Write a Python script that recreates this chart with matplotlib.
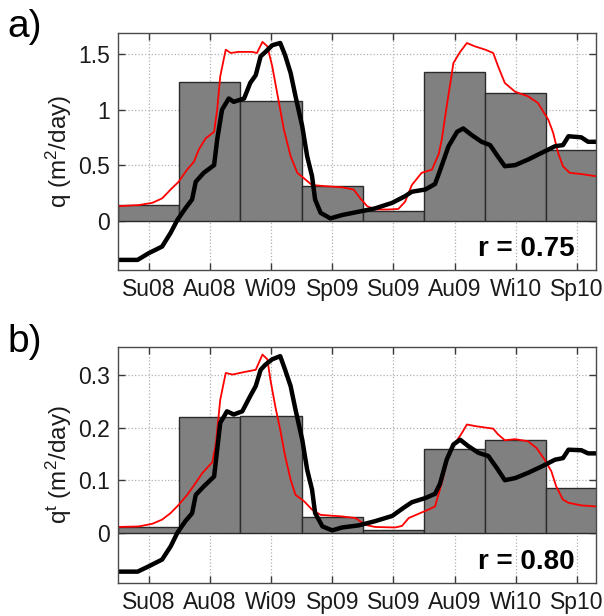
import numpy as np
import matplotlib
matplotlib.use("Agg")
import matplotlib.pyplot as plt

plt.rcParams["font.family"] = ["Liberation Sans", "DejaVu Sans"]
plt.rcParams["mathtext.default"] = "regular"

# seasons (bar centres at 1..8)
seasons = ["Su08", "Au08", "Wi09", "Sp09", "Su09", "Au09", "Wi10", "Sp10"]
season_pos = [1, 2, 3, 4, 5, 6, 7, 8]

# seasonal bars
bars_q  = [0.14, 1.25, 1.08, 0.31, 0.09, 1.34, 1.15, 0.64]
bars_qt = [0.011, 0.221, 0.223, 0.030, 0.005, 0.159, 0.177, 0.086]

# panel a) black curve
xa_black = [0.5, 0.82, 1.0, 1.22, 1.36, 1.47, 1.60, 1.71, 1.77, 1.90, 2.07, 2.12, 2.20,
            2.31, 2.39, 2.56, 2.66, 2.75, 2.83, 2.91, 3.02, 3.15, 3.23, 3.32, 3.40,
            3.51, 3.59, 3.67, 3.72, 3.81, 3.97, 4.16, 4.43, 4.70, 4.98, 5.19, 5.30,
            5.52, 5.68, 5.76, 5.90, 6.04, 6.14, 6.28, 6.44, 6.58, 6.69, 6.82, 6.99,
            7.20, 7.42, 7.64, 7.77, 7.86, 8.07, 8.18, 8.31]
ya_black = [-0.354, -0.354, -0.294, -0.234, -0.11, 0.006, 0.11, 0.19, 0.35, 0.43, 0.50,
            0.73, 1.0, 1.10, 1.07, 1.10, 1.24, 1.31, 1.48, 1.52, 1.58, 1.60, 1.49,
            1.33, 1.12, 0.85, 0.58, 0.40, 0.19, 0.07, 0.02, 0.05, 0.08, 0.11, 0.16,
            0.22, 0.26, 0.28, 0.33, 0.45, 0.67, 0.80, 0.83, 0.77, 0.71, 0.68, 0.59,
            0.49, 0.50, 0.55, 0.61, 0.67, 0.68, 0.76, 0.75, 0.71, 0.71]

# panel a) red curve
xa_red = [0.5, 0.84, 1.06, 1.22, 1.36, 1.49, 1.63, 1.74, 1.82, 1.93, 2.07, 2.12, 2.17,
          2.26, 2.34, 2.47, 2.69, 2.77, 2.86, 2.94, 3.02, 3.10, 3.21, 3.32, 3.43,
          3.54, 3.67, 3.89, 4.16, 4.35, 4.46, 4.57, 4.70, 4.92, 5.08, 5.19, 5.30,
          5.46, 5.63, 5.74, 5.79, 5.87, 5.93, 5.98, 6.09, 6.20, 6.33, 6.50, 6.63,
          6.71, 6.82, 6.99, 7.20, 7.36, 7.53, 7.61, 7.69, 7.77, 7.88, 8.07, 8.18, 8.31]
ya_red = [0.13, 0.14, 0.16, 0.20, 0.28, 0.35, 0.46, 0.53, 0.64, 0.74, 0.80, 1.0, 1.30,
          1.54, 1.51, 1.52, 1.52, 1.51, 1.61, 1.57, 1.39, 1.15, 0.82, 0.58, 0.43,
          0.38, 0.32, 0.31, 0.30, 0.28, 0.20, 0.13, 0.10, 0.10, 0.105, 0.17, 0.32,
          0.43, 0.46, 0.60, 0.73, 1.03, 1.24, 1.42, 1.52, 1.60, 1.57, 1.54, 1.51,
          1.39, 1.24, 1.16, 1.12, 1.06, 0.91, 0.79, 0.61, 0.49, 0.43, 0.42, 0.41, 0.40]

# panel b) black curve
xb_black = [0.5, 0.82, 1.0, 1.22, 1.36, 1.47, 1.60, 1.71, 1.77, 1.90, 2.07, 2.12, 2.17,
            2.28, 2.39, 2.53, 2.66, 2.75, 2.83, 2.91, 3.02, 3.15, 3.23, 3.32, 3.40,
            3.51, 3.59, 3.67, 3.72, 3.84, 4.00, 4.16, 4.43, 4.70, 4.98, 5.16, 5.30,
            5.52, 5.68, 5.76, 5.87, 5.98, 6.09, 6.22, 6.39, 6.55, 6.69, 6.82, 6.99,
            7.20, 7.42, 7.64, 7.77, 7.86, 8.07, 8.18, 8.31]
yb_black = [-0.074, -0.074, -0.064, -0.051, -0.026, 0.0, 0.022, 0.037, 0.072, 0.088,
            0.107, 0.158, 0.209, 0.231, 0.225, 0.231, 0.26, 0.279, 0.31, 0.32, 0.33,
            0.336, 0.31, 0.279, 0.234, 0.177, 0.12, 0.082, 0.0375, 0.012, 0.0045,
            0.010, 0.014, 0.022, 0.032, 0.047, 0.058, 0.066, 0.074, 0.093, 0.139,
            0.168, 0.177, 0.165, 0.152, 0.146, 0.123, 0.10, 0.104, 0.114, 0.126,
            0.139, 0.142, 0.158, 0.157, 0.151, 0.151]

# panel b) red curve
xb_red = [0.5, 0.84, 1.06, 1.22, 1.36, 1.49, 1.63, 1.77, 1.88, 2.04, 2.10, 2.17, 2.26,
          2.37, 2.53, 2.75, 2.86, 2.94, 2.99, 3.07, 3.15, 3.23, 3.32, 3.40, 3.54,
          3.67, 3.81, 4.16, 4.38, 4.54, 4.70, 5.03, 5.14, 5.25, 5.41, 5.57, 5.68,
          5.79, 5.90, 6.01, 6.12, 6.20, 6.33, 6.63, 6.71, 6.82, 6.99, 7.20, 7.34,
          7.47, 7.58, 7.66, 7.77, 7.86, 8.07, 8.31]
yb_red = [0.011, 0.012, 0.017, 0.025, 0.0375, 0.053, 0.072, 0.095, 0.114, 0.134, 0.171,
          0.253, 0.304, 0.301, 0.305, 0.31, 0.339, 0.33, 0.291, 0.24, 0.196, 0.146,
          0.101, 0.072, 0.060, 0.044, 0.034, 0.031, 0.028, 0.015, 0.011, 0.010,
          0.013, 0.028, 0.036, 0.044, 0.050, 0.095, 0.146, 0.171, 0.19, 0.206,
          0.203, 0.198, 0.187, 0.176, 0.178, 0.174, 0.161, 0.139, 0.117, 0.088,
          0.063, 0.057, 0.052, 0.050]

fig = plt.figure(figsize=(6.04, 6.16), dpi=100)
ax_a = fig.add_axes([0.1954, 0.5617, 0.7914, 0.3847])
ax_b = fig.add_axes([0.1954, 0.0541, 0.7914, 0.3831])

panels = [
    (ax_a, bars_q, xa_black, ya_black, xa_red, ya_red, (-0.445, 1.69), [0, 0.5, 1, 1.5],
     ["0", "0.5", "1", "1.5"], "q (m$^{2}$/day)", "a)", "r = 0.75"),
    (ax_b, bars_qt, xb_black, yb_black, xb_red, yb_red, (-0.095, 0.354), [0, 0.1, 0.2, 0.3],
     ["0", "0.1", "0.2", "0.3"], "q$^{t}$ (m$^{2}$/day)", "b)", "r = 0.80"),
]

for ax, bars, xk, yk, xr, yr, ylim, yt, ytl, ylab, tag, rtxt in panels:
    ax.bar(season_pos, bars, width=1.0, color="#808080", edgecolor="#2b2b2b",
           linewidth=1.0, zorder=2)
    ax.plot(xr, yr, color="#ff0000", linewidth=1.3, zorder=3)
    ax.plot(xk, yk, color="black", linewidth=3.2, zorder=4)

    ax.set_xlim(0.5, 8.31)
    ax.set_ylim(*ylim)
    ax.set_xticks(season_pos)
    ax.set_xticklabels(seasons)
    ax.set_yticks(yt)
    ax.set_yticklabels(ytl)
    ax.set_axisbelow(True)
    ax.grid(True, linestyle=":", color="#b0b0b0", linewidth=0.9, zorder=0)
    ax.tick_params(direction="in", top=True, right=True, length=5, width=1,
                   color="#3a3a3a", labelsize=16.5, labelcolor="#1a1a1a", pad=6)
    for sp in ax.spines.values():
        sp.set_color("#4a4a4a")
        sp.set_linewidth(1.0)
        sp.set_zorder(5)
    ax.set_ylabel(ylab, fontsize=17.5, color="#1a1a1a", labelpad=3)
    ax.text(0.956, 0.059, rtxt, transform=ax.transAxes, ha="right", va="baseline",
            fontsize=20, fontweight="bold", zorder=6)

fig.text(0.012, 0.940, "a)", fontsize=28, va="baseline", ha="left")
fig.text(0.012, 0.428, "b)", fontsize=28, va="baseline", ha="left")

plt.savefig("out.png", dpi=100)
plt.close()
